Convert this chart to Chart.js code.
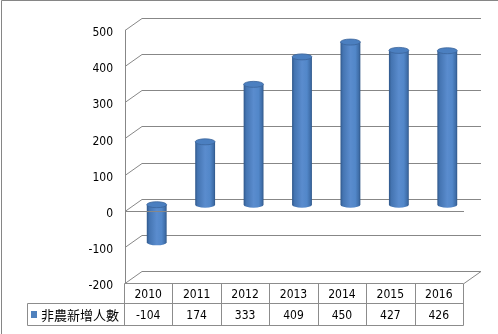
<!DOCTYPE html>
<html>
<head>
<meta charset="utf-8">
<script src="https://cdn.jsdelivr.net/npm/chart.js@4/dist/chart.umd.min.js"></script>
<style>
  html, body { margin: 0; padding: 0; background: #fff; }
  #wrap { width: 498px; height: 334px; position: relative; }
</style>
</head>
<body>
<div id="wrap"><canvas id="jobsChart"></canvas></div>
<script>
// data
const years = ["2010", "2011", "2012", "2013", "2014", "2015", "2016"];
const jobs = [-104, 174, 333, 409, 450, 427, 426];
const seriesName = "非農新增人數";
const yTicks = [-200, -100, 0, 100, 200, 300, 400, 500];

const DEPTH_X = 17, DEPTH_Y = -12;   // 3d depth of the back wall
const GRID = "#878787";
const FONT = "'DejaVu Sans Condensed', 'Liberation Sans', sans-serif";

// walls, gridlines and floor behind the bars
const wallPlugin = {
  id: "wall",
  beforeDatasetsDraw(chart) {
    const { ctx, chartArea: a, scales: { y } } = chart;
    ctx.save();
    ctx.strokeStyle = GRID;
    ctx.lineWidth = 1;
    yTicks.forEach(v => {
      const py = Math.round(y.getPixelForValue(v)) + 0.5;
      ctx.beginPath();
      ctx.moveTo(a.left + 1, py);
      ctx.lineTo(a.left + 1 + DEPTH_X, py + DEPTH_Y);
      ctx.lineTo(a.right + DEPTH_X + 1, py + DEPTH_Y);
      ctx.stroke();
    });
    // floor right edge
    const fy = Math.round(y.getPixelForValue(-200)) + 0.5;
    ctx.beginPath();
    ctx.moveTo(a.right + 1, fy);
    ctx.lineTo(a.right + 1 + DEPTH_X, fy + DEPTH_Y);
    ctx.stroke();
    // front axis
    ctx.beginPath();
    ctx.moveTo(a.left + 1.5, Math.round(y.getPixelForValue(500)));
    ctx.lineTo(a.left + 1.5, fy);
    ctx.stroke();
    ctx.restore();
  },
  afterDatasetsDraw(chart) {
    const { ctx, chartArea: a, scales: { x, y } } = chart;
    const meta = chart.getDatasetMeta(0);
    ctx.save();
    meta.data.forEach(bar => {
      const r = bar.width / 2;
      const ry = 3;
      const cx = bar.x + DEPTH_X / 2;
      const top = Math.min(bar.y, bar.base) + DEPTH_Y / 2;
      const bot = Math.max(bar.y, bar.base) + DEPTH_Y / 2;
      const g = ctx.createLinearGradient(cx - r, 0, cx + r, 0);
      g.addColorStop(0, "#2f578a");
      g.addColorStop(0.12, "#4474b1");
      g.addColorStop(0.5, "#5a8cce");
      g.addColorStop(0.75, "#5287c9");
      g.addColorStop(0.92, "#3f6ea9");
      g.addColorStop(1, "#2f5687");
      ctx.beginPath();
      ctx.moveTo(cx - r, top);
      ctx.lineTo(cx - r, bot);
      ctx.ellipse(cx, bot, r, ry, 0, Math.PI, 0, true);
      ctx.lineTo(cx + r, top);
      ctx.closePath();
      ctx.fillStyle = g;
      ctx.fill();
      ctx.beginPath();
      ctx.ellipse(cx, top, r, ry, 0, 0, Math.PI * 2);
      ctx.fillStyle = "#4b7fc0";
      ctx.fill();
      ctx.strokeStyle = "#3b659b";
      ctx.lineWidth = 0.8;
      ctx.stroke();
    });
    // front line at zero
    const zy = Math.round(y.getPixelForValue(0)) + 0.5;
    ctx.strokeStyle = GRID;
    ctx.lineWidth = 1;
    ctx.beginPath();
    ctx.moveTo(a.left + 1, zy);
    ctx.lineTo(a.right + 1, zy);
    ctx.stroke();

    // data table
    const t0 = Math.round(y.getPixelForValue(-200)) + 0.5;
    const t1 = t0 + 20, t2 = t1 + 22;
    const colW = (a.right - a.left) / years.length;
    const left = 27.5, L = a.left + 0.5, R = Math.round(a.right) + 0.5;
    ctx.strokeStyle = "#8c8c8c";
    ctx.beginPath();
    ctx.moveTo(L, t0); ctx.lineTo(R, t0);
    ctx.moveTo(left, t1); ctx.lineTo(R, t1);
    ctx.moveTo(left, t2); ctx.lineTo(R, t2);
    ctx.moveTo(left, t1); ctx.lineTo(left, t2);
    ctx.moveTo(L, t0); ctx.lineTo(L, t2);
    for (let i = 1; i <= years.length; i++) {
      const px = Math.round(a.left + colW * i) + 0.5;
      ctx.moveTo(px, t0); ctx.lineTo(px, t2);
    }
    ctx.stroke();
    ctx.fillStyle = "#000";
    ctx.font = "12px " + FONT;
    ctx.textAlign = "center";
    ctx.textBaseline = "middle";
    years.forEach((yr, i) => {
      const px = x.getPixelForValue(i);
      ctx.fillText(yr, px, (t0 + t1) / 2 + 1);
      ctx.fillText(String(jobs[i]), px, (t1 + t2) / 2 + 1);
    });
    ctx.fillStyle = "#4f81bd";
    ctx.fillRect(31, 311, 6, 7);
    ctx.fillStyle = "#000";
    ctx.textAlign = "left";
    ctx.font = "13px 'Noto Sans CJK TC', sans-serif";
    ctx.fillText(seriesName, 41, (t1 + t2) / 2 + 1);
    ctx.restore();
  }
};

// outer frame (only top and left show in the crop)
const framePlugin = {
  id: "frame",
  afterDraw(chart) {
    const ctx = chart.ctx;
    ctx.save();
    ctx.strokeStyle = "#868686";
    ctx.lineWidth = 1;
    ctx.beginPath();
    ctx.moveTo(1.5, chart.height);
    ctx.lineTo(1.5, 0.5);
    ctx.lineTo(chart.width, 0.5);
    ctx.stroke();
    ctx.restore();
  }
};

new Chart(document.getElementById("jobsChart"), {
  type: "bar",
  data: {
    labels: years,
    datasets: [{
      label: seriesName,
      data: jobs,
      backgroundColor: "rgba(0,0,0,0)",
      borderWidth: 0,
      categoryPercentage: 1,
      barPercentage: 0.41
    }]
  },
  options: {
    responsive: true,
    maintainAspectRatio: false,
    animation: false,
    layout: { padding: { top: 30, right: 35, bottom: 51, left: 0 } },
    plugins: { legend: { display: false }, tooltip: { enabled: false } },
    scales: {
      x: { display: false },
      y: {
        min: -200,
        max: 500,
        afterFit(scale) { scale.width = 124; },
        afterBuildTicks(scale) { scale.ticks = yTicks.map(v => ({ value: v })); },
        grid: { display: false, drawTicks: false },
        border: { display: false },
        ticks: { padding: 11, labelOffset: 3, color: "#000", font: { size: 12, family: FONT } }
      }
    }
  },
  plugins: [wallPlugin, framePlugin]
});
</script>
</body>
</html>
